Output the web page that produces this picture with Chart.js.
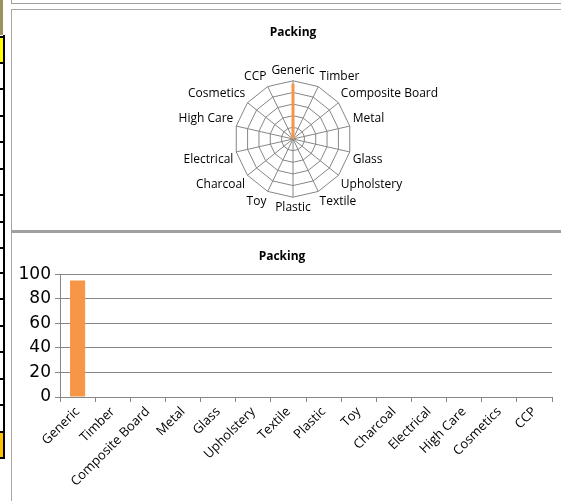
<!DOCTYPE html>
<html>
<head>
<meta charset="utf-8">
<script src="https://cdn.jsdelivr.net/npm/chart.js@4"></script>
<style>
  html, body { margin:0; padding:0; background:#fff; width:561px; height:501px; overflow:hidden; position:relative; }
  .abs { position:absolute; }
  #c1 { position:absolute; left:12px; top:10px; }
  #c2 { position:absolute; left:12px; top:234px; }
</style>
</head>
<body>
<!-- spreadsheet fragments around the charts -->
<div class="abs" style="left:0;top:0;width:3px;height:35px;background:#9e915e;"></div>
<div class="abs" style="left:0;top:37px;width:3px;height:25px;background:#ffff00;"></div>
<div class="abs" style="left:0;top:431px;width:3px;height:26px;background:#ffc000;"></div>
<div class="abs" style="left:3px;top:35px;width:2px;height:424px;background:#000;"></div>
<div id="rows"></div>
<!-- chart frames -->
<div class="abs" style="left:11px;top:0;width:1px;height:4px;background:#a0a0a0;"></div>
<div class="abs" style="left:11px;top:3px;width:560px;height:1px;background:#a0a0a0;"></div>
<div class="abs" style="left:11px;top:9px;width:560px;height:221px;border:1px solid #a6a6a6;border-right:none;"></div>
<div class="abs" style="left:11px;top:230px;width:560px;height:3px;background:#a0a0a0;"></div>
<div class="abs" style="left:11px;top:233px;width:1px;height:268px;background:#a6a6a6;"></div>

<canvas id="c1" width="562" height="219"></canvas>
<canvas id="c2" width="562" height="267"></canvas>

<script>
// spreadsheet row lines
const rowLines = [36, 62, 88, 115, 141, 168, 194, 221, 247, 272, 298, 325, 351, 378, 404, 431, 457];
const rowsDiv = document.getElementById('rows');
rowLines.forEach(y => {
  const d = document.createElement('div');
  d.className = 'abs';
  d.style.cssText = 'left:0;top:' + y + 'px;width:5px;height:1.5px;background:#000;';
  rowsDiv.appendChild(d);
});

// ---- data ----
const categories = ['Generic','Timber','Composite Board','Metal','Glass','Upholstery','Textile','Plastic','Toy','Charcoal','Electrical','High Care','Cosmetics','CCP'];
const packingValues = [95, 0, 0, 0, 0, 0, 0, 0, 0, 0, 0, 0, 0, 0];
const yTicks = [0, 20, 40, 60, 80, 100];
const chartTitle = 'Packing';

const ORANGE = '#F79646';
const GRID = '#868686';
const LABEL_FONT = 'Open Sans';

Chart.defaults.font.family = LABEL_FONT;
Chart.defaults.color = '#000';
Chart.defaults.animation = false;

// ---- radar ----
new Chart(document.getElementById('c1'), {
  type: 'radar',
  data: {
    labels: categories,
    datasets: [{
      data: packingValues,
      borderColor: ORANGE,
      borderWidth: 3,
      pointRadius: 0,
      fill: false,
      tension: 0
    }]
  },
  options: {
    responsive: false,
    devicePixelRatio: 1,
    layout: { padding: { top: 0, bottom: 14, left: 0, right: 0 } },
    plugins: {
      legend: { display: false },
      tooltip: { enabled: false },
      title: {
        display: true, text: chartTitle, color: '#000',
        font: { family: LABEL_FONT, size: 12, weight: 'bold' },
        padding: { top: 15, bottom: 24 }
      }
    },
    scales: {
      r: {
        min: yTicks[0], max: yTicks[yTicks.length - 1],
        ticks: { display: false, stepSize: 20 },
        grid: { color: GRID, lineWidth: 1 },
        angleLines: { color: GRID, lineWidth: 1 },
        pointLabels: { color: '#000', font: { family: LABEL_FONT, size: 12 }, padding: 3 }
      }
    }
  }
});

// ---- bar ----
new Chart(document.getElementById('c2'), {
  type: 'bar',
  data: {
    labels: categories,
    datasets: [{
      data: packingValues,
      backgroundColor: ORANGE,
      borderWidth: 0,
      categoryPercentage: 1,
      barPercentage: 0.43
    }]
  },
  options: {
    responsive: false,
    devicePixelRatio: 1,
    layout: { padding: { top: 0, bottom: 0, left: 0, right: 22 } },
    plugins: {
      legend: { display: false },
      tooltip: { enabled: false },
      title: {
        display: true, text: chartTitle, color: '#000',
        font: { family: LABEL_FONT, size: 12, weight: 'bold' },
        padding: { top: 15, bottom: 11 }
      }
    },
    scales: {
      x: {
        offset: true,
        grid: { offset: true, drawOnChartArea: false, drawTicks: true, tickLength: 5, color: GRID },
        border: { color: GRID, width: 1 },
        ticks: { maxRotation: 45, minRotation: 45, color: '#000', font: { family: LABEL_FONT, size: 13 }, padding: 2, autoSkip: false },
        afterFit: s => { s.height = 104; }
      },
      y: {
        min: yTicks[0], max: yTicks[yTicks.length - 1],
        afterBuildTicks: s => { s.ticks = yTicks.map(v => ({ value: v })); },
        grid: { color: GRID, lineWidth: 1, tickLength: 5 },
        border: { color: GRID, width: 1 },
        ticks: { color: '#000', font: { family: 'DejaVu Sans', size: 17 }, padding: 4 },
        afterFit: s => { s.width = 48; }
      }
    }
  }
});
</script>
</body>
</html>
